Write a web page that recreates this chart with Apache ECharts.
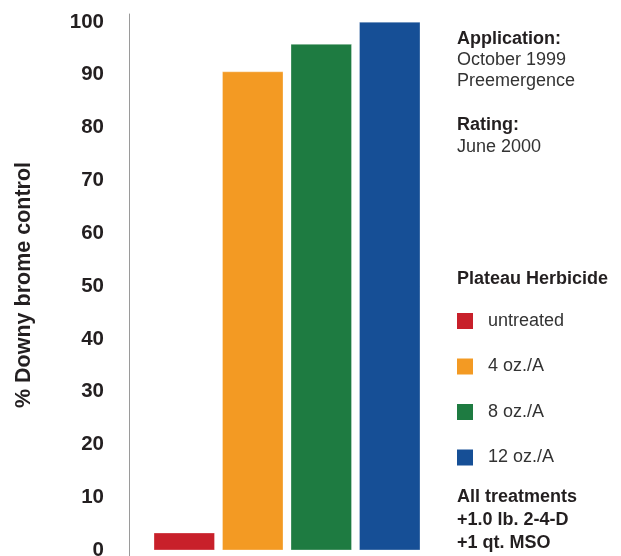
<!DOCTYPE html>
<html>
<head>
<meta charset="utf-8">
<script src="https://cdn.jsdelivr.net/npm/echarts@6/dist/echarts.min.js"></script>
<style>
  html, body { margin: 0; padding: 0; background: #fff; }
  #chart { width: 621px; height: 556px; }
</style>
</head>
<body>
<div id="chart"></div>
<script>
// treatments and % control
const categories = ['untreated', '4 oz./A', '8 oz./A', '12 oz./A'];
const control = [3.3, 90.6, 95.8, 100];
const colors = ['#c8202a', '#f39a23', '#1e7b41', '#164f96'];
const yTicks = [0, 10, 20, 30, 40, 50, 60, 70, 80, 90, 100];

const font = '"Liberation Sans", Arial, Helvetica, sans-serif';

const chart = echarts.init(document.getElementById('chart'));

// one series per treatment so the legend shows each one
const series = categories.map((name, i) => ({
    name: name,
    type: 'bar',
    stack: 'all',
    barWidth: 61,
    data: categories.map((c, j) => (j === i ? control[i] : null)),
    itemStyle: { color: colors[i], borderColor: 'rgba(255,255,255,0.6)', borderWidth: 0.5 },
    silent: true
}));

// side notes: [text, y centre, bold]
const notes = [
    ['Application:', 39, true],
    ['October 1999', 60, false],
    ['Preemergence', 81, false],
    ['Rating:', 125, true],
    ['June 2000', 147, false],
    ['Plateau Herbicide', 279, true],
    ['All treatments', 497, true],
    ['+1.0 lb. 2-4-D', 520, true],
    ['+1 qt. MSO', 543, true]
];

chart.setOption({
    animation: false,
    textStyle: { fontFamily: font },
    grid: { left: 150, right: 197, top: 14, bottom: 0, outerBoundsMode: 'none' },
    xAxis: {
        type: 'category',
        data: categories,
        show: false
    },
    yAxis: {
        type: 'value',
        min: -1.1,
        max: 101.5,
        offset: 21,
        splitLine: { show: false },
        axisTick: { show: false },
        axisLine: { show: true, lineStyle: { color: '#9a9a9a', width: 1 } },
        axisLabel: {
            customValues: yTicks,
            margin: 25,
            fontSize: 20.5,
            fontWeight: 'bold',
            color: '#231f20',
            fontFamily: font
        }
    },
    legend: {
        orient: 'vertical',
        left: 457,
        top: 312,
        padding: 0,
        itemWidth: 16,
        itemHeight: 16,
        itemGap: 27.5,
        icon: 'rect',
        itemStyle: { borderWidth: 0 },
        data: categories,
        textStyle: { fontSize: 18, color: '#333', fontFamily: font, padding: [0, 0, 0, 10] }
    },
    graphic: [
        {
            type: 'text', x: 24, y: 285, rotation: Math.PI / 2,
            style: { text: '% Downy brome control', font: 'bold 21.5px ' + font, fill: '#231f20', align: 'center', verticalAlign: 'middle' }
        }
    ].concat(notes.map(n => ({
        type: 'text', x: 457, y: n[1],
        style: {
            text: n[0],
            font: (n[2] ? 'bold ' : '') + '18px ' + font,
            fill: n[2] ? '#231f20' : '#333',
            align: 'left',
            verticalAlign: 'middle'
        }
    }))),
    series: series
});
</script>
</body>
</html>
